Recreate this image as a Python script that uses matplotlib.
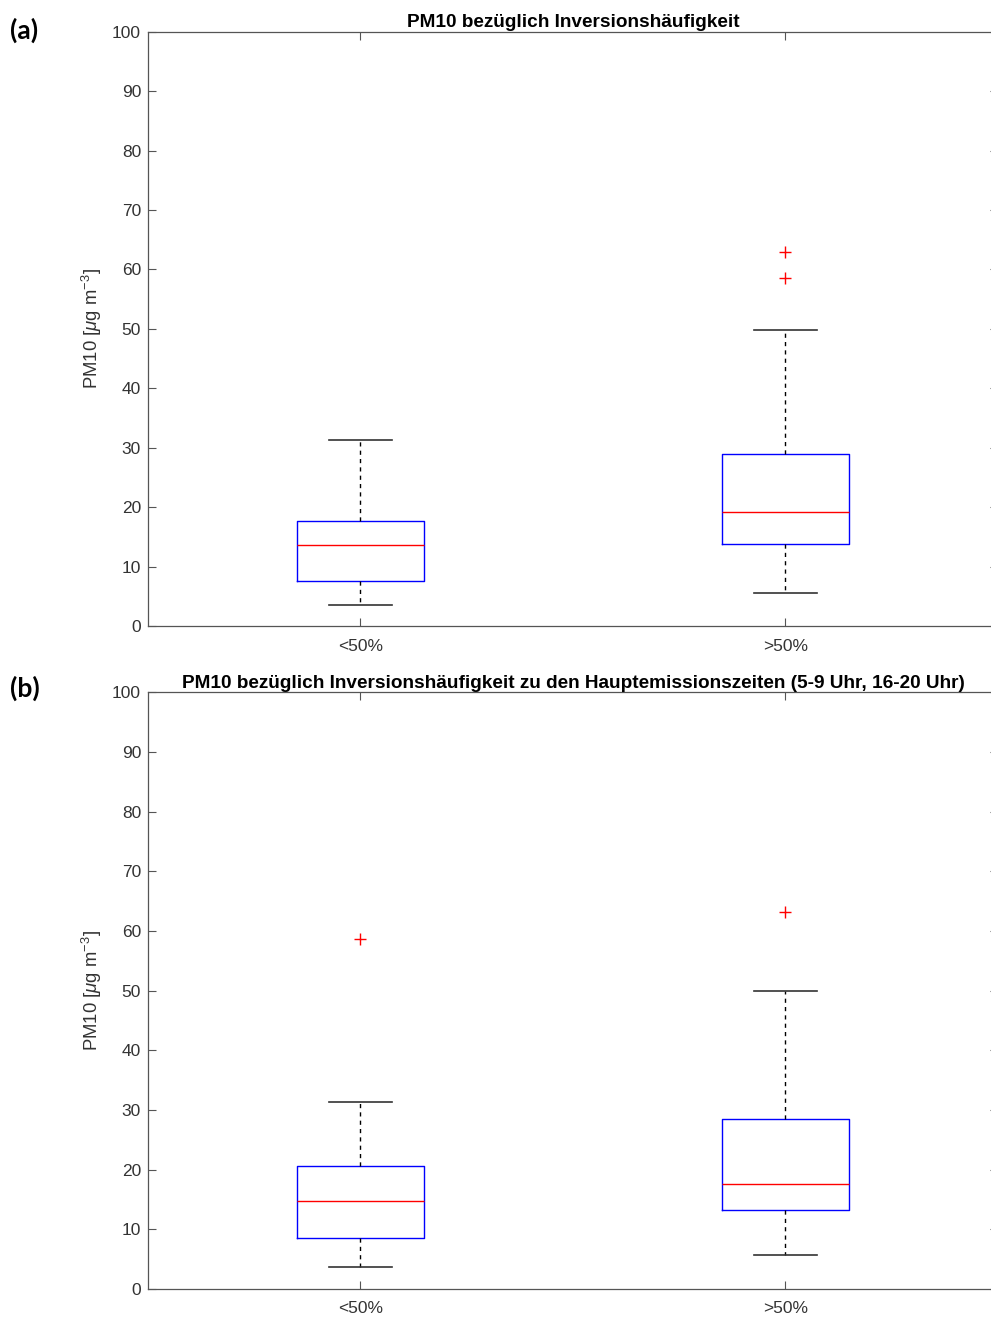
import matplotlib
matplotlib.use("Agg")
from matplotlib import pyplot as plt

plt.rcParams['font.family'] = ['Liberation Sans', 'DejaVu Sans']
plt.rcParams['mathtext.fontset'] = 'custom'
plt.rcParams['mathtext.rm'] = 'Liberation Sans'
plt.rcParams['mathtext.it'] = 'Liberation Sans:italic'

# groups on the x axis
groups = ["<50%", ">50%"]

# (a) all hours
a_low = [3.5, 5.6]
a_q1 = [7.6, 13.9]
a_med = [13.7, 19.2]
a_q3 = [17.7, 28.9]
a_high = [31.3, 49.9]
a_fliers = [[], [58.6, 63.0]]

# (b) main emission hours
b_low = [3.6, 5.7]
b_q1 = [8.5, 13.2]
b_med = [14.8, 17.6]
b_q3 = [20.6, 28.4]
b_high = [31.3, 50.0]
b_fliers = [[58.6], [63.1]]

titles = ["PM10 bezüglich Inversionshäufigkeit",
          "PM10 bezüglich Inversionshäufigkeit zu den Hauptemissionszeiten (5-9 Uhr, 16-20 Uhr)"]
panel_tags = ["(a)", "(b)"]

grey = "#555555"
txt = "#333333"


def make_stats(low, q1, med, q3, high, fliers):
    out = []
    for i in range(len(groups)):
        out.append({"whislo": low[i], "q1": q1[i], "med": med[i], "q3": q3[i],
                    "whishi": high[i], "fliers": fliers[i], "label": groups[i]})
    return out


def draw_panel(ax, stats, title):
    ax.bxp(stats, positions=[1, 2], widths=0.3, showfliers=True,
           boxprops=dict(color="#0000ff", linewidth=1.0),
           medianprops=dict(color="#ff0000", linewidth=1.0),
           whiskerprops=dict(color="black", linestyle=(0, (3, 3)), linewidth=1.0),
           capprops=dict(color="#333333", linewidth=1.2),
           flierprops=dict(marker="+", markeredgecolor="#ff0000", markersize=9,
                           markeredgewidth=1.0, linestyle="none"))
    ax.set_xlim(0.5, 2.5)
    ax.set_ylim(0, 100)
    ax.set_yticks(range(0, 101, 10))
    ax.set_xticks([1, 2])
    ax.set_xticklabels(groups)
    ax.tick_params(direction="in", length=6, width=0.8, colors=grey,
                   labelcolor=txt, labelsize=12.5, top=True, right=True)
    ax.tick_params(axis="x", pad=9)
    ax.tick_params(axis="y", pad=5)
    for s in ax.spines.values():
        s.set_color(grey)
        s.set_linewidth(0.9)
    ax.set_title(title, fontsize=13.7, fontweight="bold", color="black", pad=3)
    ax.set_ylabel("PM10 [$\\mu$g m$^{-3}$]", fontsize=13.3, color=txt)
    ax.yaxis.set_label_coords(-0.052, 0.5)


fig = plt.figure(figsize=(9.91, 13.17), dpi=100)
ax1 = fig.add_axes([0.1493, 0.5245, 0.8577, 0.4515])
ax2 = fig.add_axes([0.1493, 0.0213, 0.8577, 0.4531])

draw_panel(ax1, make_stats(a_low, a_q1, a_med, a_q3, a_high, a_fliers), titles[0])
draw_panel(ax2, make_stats(b_low, b_q1, b_med, b_q3, b_high, b_fliers), titles[1])

fig.text(0.010, 0.977, panel_tags[0], fontsize=19, fontweight="bold",
         family=["Lato", "DejaVu Sans"], va="center", ha="left")
fig.text(0.010, 0.477, panel_tags[1], fontsize=19, fontweight="bold",
         family=["Lato", "DejaVu Sans"], va="center", ha="left")

fig.savefig("out.png", dpi=100)
